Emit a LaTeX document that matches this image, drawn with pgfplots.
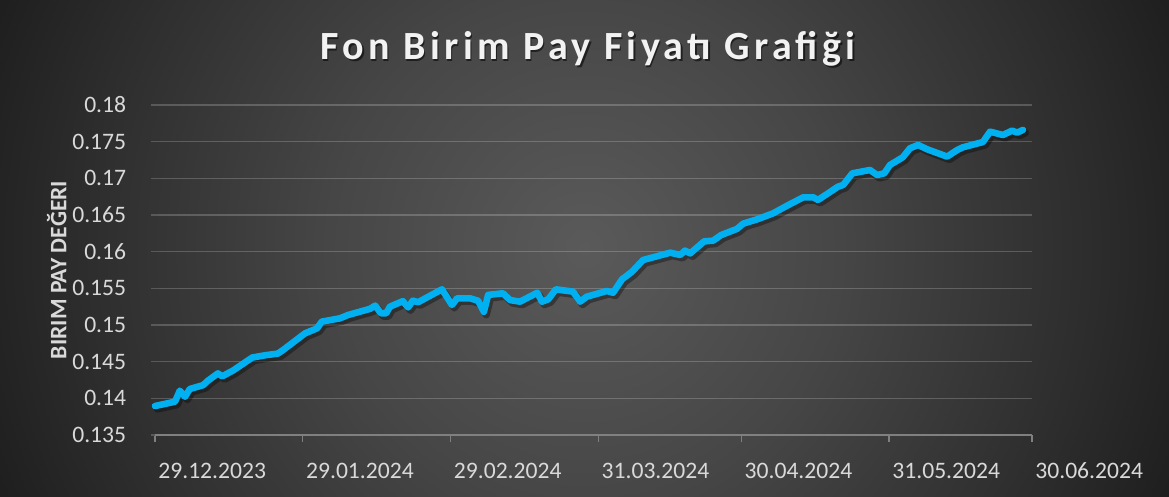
\documentclass[border=0pt]{standalone}
\usepackage{fontspec}
\setmainfont{Carlito}
\newfontfamily\titlefont[LetterSpace=11]{Carlito}
\usepackage{pgfplots}
\pgfplotsset{compat=1.18}
\definecolor{lineblue}{RGB}{0,176,240}
\definecolor{ticktext}{RGB}{217,217,217}
\definecolor{bgA}{RGB}{90,90,90}
\definecolor{bgB}{RGB}{70,70,70}
\definecolor{bgC}{RGB}{44,44,44}
\definecolor{bgD}{RGB}{30,30,30}
\pgfdeclareradialshading{bgshade}{\pgfpoint{0bp}{0bp}}{color(0bp)=(bgA); color(10bp)=(bgB); color(20bp)=(bgC); color(25bp)=(bgD); color(50bp)=(bgD)}
\pgfplotstableread{
d v
0 0.13895
4.2 0.13954
5.2 0.14104
6.3 0.14022
7.3 0.14127
10.1 0.14180
11.1 0.14240
13.2 0.14340
14.1 0.14300
16.4 0.14380
20.4 0.14556
23.1 0.14587
25.8 0.14610
26.9 0.14660
31.5 0.14887
33.2 0.14932
34.0 0.14955
35.0 0.15046
38.8 0.15091
40.5 0.15136
45.1 0.15220
46.2 0.15264
47.4 0.15160
48.5 0.15160
49.3 0.15250
52.0 0.15325
53.1 0.15240
54.1 0.15332
55.2 0.15310
60.2 0.15486
62.3 0.15273
63.4 0.15364
66.1 0.15364
67.8 0.15330
69.0 0.15180
69.9 0.15410
73.0 0.15432
74.5 0.15340
76.6 0.15318
80.2 0.15440
81.2 0.15318
82.5 0.15350
84.1 0.15486
87.7 0.15455
89.2 0.15318
90.6 0.15386
94.8 0.15464
96.1 0.15440
98.0 0.15623
100.1 0.15727
102.4 0.15886
108.1 0.15986
110.2 0.15955
111.2 0.16014
112.3 0.15977
115.2 0.16140
117.1 0.16150
118.8 0.16227
122.1 0.16310
123.4 0.16382
126.3 0.16440
129.7 0.16523
131.6 0.16591
133.3 0.16650
136.0 0.16741
138.1 0.16741
139.1 0.16705
141.0 0.16786
143.3 0.16886
144.4 0.16910
146.3 0.17068
150.0 0.17114
151.5 0.17045
153.0 0.17068
154.2 0.17182
156.9 0.17287
158.4 0.17410
160.1 0.17455
162.0 0.17396
166.2 0.17296
168.3 0.17386
169.5 0.17423
173.7 0.17495
175.2 0.17636
177.9 0.17591
179.8 0.17650
180.9 0.17623
182.1 0.17660
}\fundtable
\begin{document}
\begin{tikzpicture}[x=0.5pt,y=0.5pt]
\begin{scope}
\clip (0,0) rectangle (1169,497);
\shade[shading=bgshade] (584.5,248.5) circle (640);
\end{scope}
\node[anchor=base, text=black, opacity=0.55] at (589.5,435) {\titlefont\bfseries\fontsize{20}{24}\selectfont Fon Birim Pay Fiyatı Grafiği};
\node[anchor=base, text=white!95!black] at (588,437) {\titlefont\bfseries\fontsize{20}{24}\selectfont Fon Birim Pay Fiyatı Grafiği};
\begin{axis}[
  at={(77.5pt,31pt)}, anchor=south west,
  scale only axis, width=438.5pt, height=165pt,
  xmin=0, xmax=184, ymin=0.135, ymax=0.18,
  axis lines*=left,
  x axis line style={-, draw=white!50!black, line width=0.6pt},
  y axis line style={draw=none},
  xtick={0,31,62,93,123,154,184},
  xticklabels={29.12.2023,29.01.2024,29.02.2024,31.03.2024,30.04.2024,31.05.2024,30.06.2024},
  ytick={0.135,0.14,0.145,0.15,0.155,0.16,0.165,0.17,0.175,0.18},
  /pgf/number format/assume math mode=true,
  /pgf/number format/fixed, /pgf/number format/precision=3,
  xtick align=outside, ytick align=center,
  major tick length=3.5pt,
  xtick style={draw=white!50!black, line width=0.6pt},
  ytick style={draw=white!35!black, line width=0.6pt},
  ymajorgrids,
  grid style={draw=white, opacity=0.2, line width=0.7pt},
  ticklabel style={font=\fontsize{11.8}{14}\selectfont, text=ticktext},
  xticklabel style={anchor=base west, inner sep=0pt, yshift=-18.5pt, xshift=1.5pt},
  yticklabel style={anchor=east, inner sep=0pt, xshift=-12.5pt},
  ylabel={BIRIM PAY DEĞERI},
  every axis y label/.style={at={(axis description cs:-0.112,0.5)}, rotate=90, anchor=center, font=\bfseries\fontsize{11.8}{14}\selectfont, text=ticktext},
  clip=false,
]
\addplot[black, opacity=0.35, line width=3.6pt, line join=round, line cap=round, transform canvas={xshift=1.2pt, yshift=-1.5pt}] table[x=d, y=v] {\fundtable};
\addplot[lineblue, line width=3.3pt, line join=round, line cap=round] table[x=d, y=v] {\fundtable};
\end{axis}
\end{tikzpicture}
\end{document}
